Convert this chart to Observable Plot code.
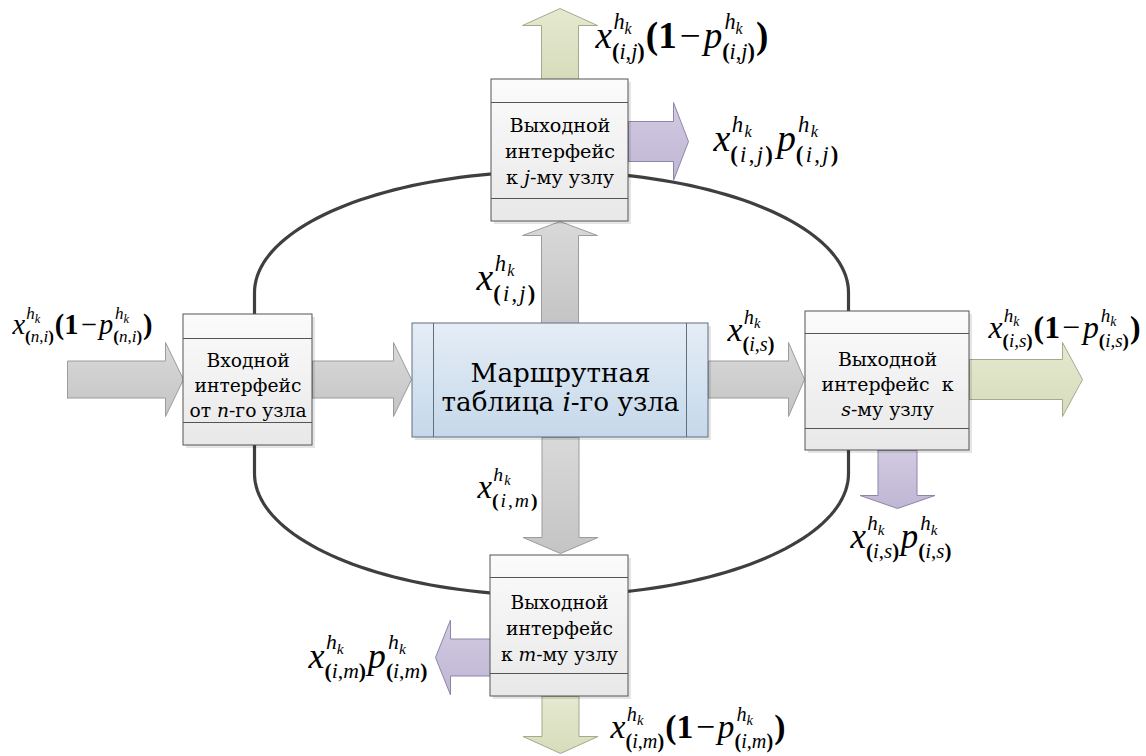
<!DOCTYPE html>
<html><head><meta charset="utf-8">
<script src="https://cdn.jsdelivr.net/npm/d3@7"></script>
<script src="https://cdn.jsdelivr.net/npm/@observablehq/plot@0.6"></script>
<style>body{margin:0;background:#fff}</style>
</head><body><div id="chart"></div>
<script>
const W = 1146, H = 756;

// interface boxes of node i (neighbour node id, frame, band lines)
const ifaceBoxes = [
  {id: "n", x1: 183, x2: 312, y1: 314, y2: 445, b1: 338, b2: 422},
  {id: "j", x1: 491, x2: 628, y1: 79,  y2: 221, b1: 102, b2: 198},
  {id: "s", x1: 805, x2: 969, y1: 311, y2: 450, b1: 333, b2: 428},
  {id: "m", x1: 490, x2: 628, y1: 555, y2: 696, b1: 577, b2: 673}
];
// routing table box
const tableBox = [{x1: 412, x2: 708, y1: 323, y2: 437, v1: 433, v2: 686}];

// the ring connecting the interfaces
const ring = {left: 254, right: 848, top: 171, bottom: 595, upperY: 292, lowerY: 473};

// block arrows: tail -> tip, shaft half width, head half width, head length
const arrows = [
  {kind: "gray",   x0: 67,    y0: 379, x1: 183,   y1: 379, s: 18.5, h: 37,   len: 18},
  {kind: "gray",   x0: 312,   y0: 379, x1: 411,   y1: 379, s: 18.5, h: 37,   len: 18},
  {kind: "gray",   x0: 708,   y0: 379, x1: 804,   y1: 379, s: 18.5, h: 37,   len: 16},
  {kind: "green",  x0: 969,   y0: 379, x1: 1082,  y1: 379, s: 20,   h: 37,   len: 20},
  {kind: "gray",   x0: 559.5, y0: 323, x1: 559.5, y1: 221, s: 18.5, h: 37.5, len: 14},
  {kind: "green",  x0: 559.5, y0: 79,  x1: 559.5, y1: 8,   s: 18.5, h: 37.5, len: 17},
  {kind: "purple", x0: 628,   y0: 141, x1: 688,   y1: 141, s: 20,   h: 39,   len: 15},
  {kind: "gray",   x0: 560,   y0: 437, x1: 560,   y1: 553, s: 18.5, h: 37.5, len: 16},
  {kind: "green",  x0: 560,   y0: 696, x1: 560,   y1: 753, s: 18.5, h: 37.5, len: 17},
  {kind: "purple", x0: 490,   y0: 657, x1: 435,   y1: 657, s: 18.5, h: 37.5, len: 15},
  {kind: "purple", x0: 897,   y0: 450, x1: 897,   y1: 508, s: 19.5, h: 37.5, len: 13}
];

// formula labels: form, node pair, anchor (start, baseline), width
const mathLabels = [
  {id: "f1",  form: "x(1-p)", pair: ["n", "i"], x: 12,  y: 333, w: 140},
  {id: "f2",  form: "x(1-p)", pair: ["i", "j"], x: 595, y: 47,  w: 173},
  {id: "f3",  form: "xp",     pair: ["i", "j"], x: 713, y: 150, w: 126, spaced: true},
  {id: "f4",  form: "x",      pair: ["i", "j"], x: 476, y: 289, w: 60,  spaced: true},
  {id: "f5",  form: "x",      pair: ["i", "s"], x: 727, y: 340, w: 48},
  {id: "f6",  form: "x(1-p)", pair: ["i", "s"], x: 988, y: 337, w: 152},
  {id: "f7",  form: "xp",     pair: ["i", "s"], x: 850, y: 547, w: 102},
  {id: "f8",  form: "x",      pair: ["i", "m"], x: 477, y: 497, w: 61,  spaced: true},
  {id: "f9",  form: "xp",     pair: ["i", "m"], x: 308, y: 667, w: 120},
  {id: "f10", form: "x(1-p)", pair: ["i", "m"], x: 610, y: 737, w: 175}
];

// box captions (*…* = italic); fit: line index whose width is w
const boxTexts = [
  {id: "t_n", cx: 247.5, y: 366, gap: 25, fit: 1, w: 107, lines: ["Входной", "интерфейс", "от *n*-го узла"]},
  {id: "t_j", cx: 559.5, y: 131, gap: 26, fit: 1, w: 110, lines: ["Выходной", "интерфейс", "к *j*-му узлу"]},
  {id: "t_s", cx: 887,   y: 365, gap: 25, fit: 1, w: 132, lines: ["Выходной", "интерфейс  к", "*s*-му узлу"]},
  {id: "t_m", cx: 559,   y: 608, gap: 26, fit: 1, w: 107, lines: ["Выходной", "интерфейс", "к *m*-му узлу"]},
  {id: "t_c", cx: 560,   y: 381, gap: 29, fit: 0, w: 180, lines: ["Маршрутная", "таблица *i*-го узла"]}
];

const arrowFill = {gray: "url(#gGray)", green: "url(#gGreen)", purple: "url(#gPurple)"};
const arrowStroke = {gray: "#9c9c9c", green: "#a5aa8c", purple: "#8e86a6"};

// ---------- geometry helpers ----------
const ringPts = [];
{
  const cx = (ring.left + ring.right) / 2, rx = (ring.right - ring.left) / 2;
  const ryU = ring.upperY - ring.top, ryL = ring.bottom - ring.lowerY;
  for (let a = 0; a <= 180; a += 2) { const t = a * Math.PI / 180; ringPts.push({x: cx - rx * Math.cos(t), y: ring.upperY - ryU * Math.sin(t)}); }
  for (let a = 0; a <= 180; a += 2) { const t = a * Math.PI / 180; ringPts.push({x: cx + rx * Math.cos(t), y: ring.lowerY + ryL * Math.sin(t)}); }
  ringPts.push(ringPts[0]);
}
function arrowPolygon(a, i) {
  const dx = a.x1 - a.x0, dy = a.y1 - a.y0, L = Math.hypot(dx, dy);
  const ux = dx / L, uy = dy / L, nx = -uy, ny = ux;
  const bx = a.x1 - ux * a.len, by = a.y1 - uy * a.len;
  const P = [[a.x0 + nx * a.s, a.y0 + ny * a.s], [bx + nx * a.s, by + ny * a.s], [bx + nx * a.h, by + ny * a.h],
             [a.x1, a.y1], [bx - nx * a.h, by - ny * a.h], [bx - nx * a.s, by - ny * a.s], [a.x0 - nx * a.s, a.y0 - ny * a.s]];
  P.push(P[0]);
  return P.map(([x, y]) => ({id: i, kind: a.kind, x, y}));
}
const arrowPts = arrows.flatMap(arrowPolygon);

// ---------- rich text ----------
const MATH = '"Liberation Serif"';
const TEXT = '"DejaVu Serif"';
const ctx = document.createElement("canvas").getContext("2d");
function measure(t, size, it, b, fam) {
  ctx.font = `${it ? "italic " : ""}${b ? "bold " : ""}${size}px ${fam}`;
  return ctx.measureText(t).width;
}
function lay(items, size, x, y, fam, out, depth = 0) {
  for (const it of items) {
    if (it.g != null) { x += it.g * size; continue; }
    if (it.t != null) {
      out.push({t: it.t, x, y, size, it: !!it.it, b: !!it.b, fam});
      x += measure(it.t, size, it.it, it.b, fam);
    } else {
      const x0 = x; let e = x; const ss = size * (depth ? 0.72 : 0.6);
      if (it.sup) e = Math.max(e, lay(it.sup, ss, x0 + (it.supdx || 0) * size, y - size * 0.5, fam, out, depth + 1));
      if (it.sub) e = Math.max(e, lay(it.sub, ss, x0, y + size * (depth ? 0.22 : 0.3), fam, out, depth + 1));
      x = e + size * 0.03;
    }
  }
  return x;
}
const I = t => ({t, it: true}), R = t => ({t}), B = t => ({t, b: true}), G = g => ({g});
function pairRuns(p, sp) {
  const g = sp ? [G(0.1)] : [];
  return [B("("), ...g, I(p[0]), ...g, R(","), ...g, I(p[1]), ...g, B(")")];
}
function sym(s, p, sp) {
  const hk = sp ? [I("h"), G(0.06), {sub: [I("k")]}] : [I("h"), {sub: [I("k")]}];
  return [I(s), {sup: hk, sub: pairRuns(p, sp), supdx: s === "x" ? 0.04 : 0.06}];
}
function mathRuns(l) {
  const sp = !!l.spaced;
  if (l.form === "x") return sym("x", l.pair, sp);
  if (l.form === "xp") return [...sym("x", l.pair, sp), G(sp ? 0.08 : 0.02), ...sym("p", l.pair, sp)];
  return [...sym("x", l.pair, sp), B("("), B("1"), G(0.08), R("\u2212"), G(0.08), ...sym("p", l.pair, sp), B(")")];
}
function parseLine(s) {
  return s.split("*").map((t, i) => (i % 2 ? {t, it: true} : {t})).filter(r => r.t.length);
}
const rich = new Map();
for (const l of mathLabels) {
  const runs = mathRuns(l);
  const w0 = lay(runs, 30, 0, 0, MATH, []);
  const size = 30 * l.w / w0;
  const out = []; lay(runs, size, 0, 0, MATH, out);
  rich.set(l.id, out);
}
for (const b of boxTexts) {
  const lines = b.lines.map(parseLine);
  const w0 = lay(lines[b.fit], 20, 0, 0, TEXT, []);
  const size = 20 * b.w / w0;
  const out = [];
  lines.forEach((runs, i) => {
    const wi = lay(runs, size, 0, 0, TEXT, []);
    lay(runs, size, -wi / 2, i * b.gap, TEXT, out);
  });
  rich.set(b.id, out);
}

// ---------- plot ----------
const svg = Plot.plot({
  width: W, height: H, margin: 0,
  x: {domain: [0, W], range: [0, W], axis: null},
  y: {domain: [0, H], range: [0, H], axis: null},
  style: {background: "#fff"},
  marks: [
    Plot.line(ringPts, {x: "x", y: "y", stroke: "#3f3f3f", strokeWidth: 3.2, curve: "linear"}),
    // arrows
    ...["gray", "green", "purple"].map(k =>
      Plot.line(arrowPts.filter(d => d.kind === k), {x: "x", y: "y", z: "id", fill: arrowFill[k], stroke: arrowStroke[k], strokeWidth: 1, strokeLinejoin: "miter", curve: "linear"})),
    // box shadows
    Plot.rect(ifaceBoxes, {x1: "x1", x2: "x2", y1: "y1", y2: "y2", fill: "#000", fillOpacity: 0.1, dx: 3, dy: 3}),
    Plot.rect(tableBox, {x1: "x1", x2: "x2", y1: "y1", y2: "y2", fill: "#000", fillOpacity: 0.1, dx: 3, dy: 3}),
    // interface boxes
    Plot.rect(ifaceBoxes, {x1: "x1", x2: "x2", y1: "y1", y2: "y2", fill: "url(#gBox)", stroke: "#555", strokeWidth: 1}),
    Plot.ruleY(ifaceBoxes, {y: "b1", x1: "x1", x2: "x2", stroke: "#555", strokeWidth: 1}),
    Plot.ruleY(ifaceBoxes, {y: "b2", x1: "x1", x2: "x2", stroke: "#555", strokeWidth: 1}),
    // routing table
    Plot.rect(tableBox, {x1: "x1", x2: "x2", y1: "y1", y2: "y2", fill: "url(#gBlue)", stroke: "#5f6f80", strokeWidth: 1}),
    Plot.ruleX(tableBox, {x: "v1", y1: "y1", y2: "y2", stroke: "#5f6f80", strokeWidth: 1}),
    Plot.ruleX(tableBox, {x: "v2", y1: "y1", y2: "y2", stroke: "#5f6f80", strokeWidth: 1}),
    // texts
    Plot.text(boxTexts, {x: "cx", y: "y", text: "id", textAnchor: "start", lineAnchor: "bottom", fill: "#000"}),
    Plot.text(mathLabels, {x: "x", y: "y", text: "id", textAnchor: "start", lineAnchor: "bottom", fill: "#000"})
  ]
});

const ns = "http://www.w3.org/2000/svg";
const defsG = document.createElementNS(ns, "g");
defsG.innerHTML = `<defs>
<linearGradient id="gBox" x1="0" y1="0" x2="0" y2="1"><stop offset="0" stop-color="#fbfbfb"/><stop offset="1" stop-color="#e8e8e8"/></linearGradient>
<linearGradient id="gBlue" x1="0" y1="0" x2="0" y2="1"><stop offset="0" stop-color="#e5edf6"/><stop offset="1" stop-color="#c5d8ea"/></linearGradient>
<linearGradient id="gGray" x1="0" y1="0" x2="0" y2="1"><stop offset="0" stop-color="#d9d9d9"/><stop offset="1" stop-color="#c4c4c4"/></linearGradient>
<linearGradient id="gGreen" x1="0" y1="0" x2="0" y2="1"><stop offset="0" stop-color="#e5e9d0"/><stop offset="1" stop-color="#d6dcbb"/></linearGradient>
<linearGradient id="gPurple" x1="0" y1="0" x2="0" y2="1"><stop offset="0" stop-color="#d2cbe2"/><stop offset="1" stop-color="#bfb6d4"/></linearGradient>
</defs>`;
svg.insertBefore(defsG, svg.firstChild);

svg.querySelectorAll("text").forEach(el => {
  const key = el.textContent;
  if (!rich.has(key)) return;
  const ax = parseFloat(el.getAttribute("x")), ay = el.getAttribute("y");
  const bx = isFinite(ax) ? ax : 0;
  const by = ay && !/em$/.test(ay) && isFinite(parseFloat(ay)) ? parseFloat(ay) : 0;
  el.removeAttribute("x"); el.removeAttribute("y"); el.removeAttribute("dy");
  el.setAttribute("xml:space", "preserve");
  el.style.whiteSpace = "pre";
  el.textContent = "";
  for (const r of rich.get(key)) {
    const ts = document.createElementNS(ns, "tspan");
    ts.setAttribute("x", (bx + r.x).toFixed(2));
    ts.setAttribute("y", (by + r.y).toFixed(2));
    ts.setAttribute("font-size", r.size.toFixed(2));
    ts.setAttribute("font-family", r.fam);
    if (r.it) ts.setAttribute("font-style", "italic");
    if (r.b) ts.setAttribute("font-weight", "bold");
    ts.textContent = r.t;
    el.appendChild(ts);
  }
});

document.getElementById("chart").appendChild(svg);
</script>
</body></html>
